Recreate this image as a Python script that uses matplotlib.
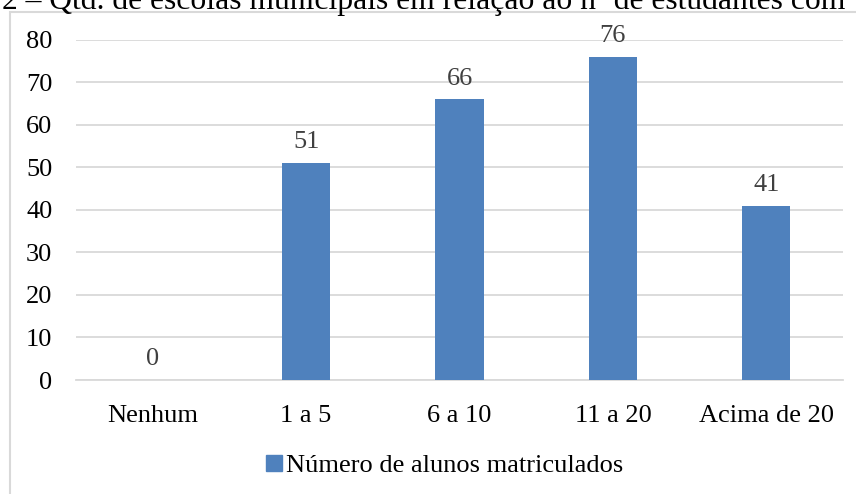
import matplotlib.pyplot as plt
from matplotlib.patches import Rectangle

# faixas de alunos e quantidade de escolas em cada uma
categorias = ['Nenhum', '1 a 5', '6 a 10', '11 a 20', 'Acima de 20']
escolas = [0, 51, 66, 76, 41]
yticks = [0, 10, 20, 30, 40, 50, 60, 70, 80]

titulo = '2 \u2013 Qtd. de escolas municipais em relação ao nº de estudantes com'
serie = 'Número de alunos matriculados'

plt.rcParams['font.family'] = ['Liberation Serif', 'DejaVu Serif']

fig = plt.figure(figsize=(8.56, 4.94), dpi=100)
ax = fig.add_axes([76 / 856, 1 - 380 / 494, (843 - 76) / 856, (380 - 39.7) / 494])

bars = ax.bar(range(len(categorias)), escolas, width=0.315, color='#4f81bd', label=serie, zorder=3)
ax.bar_label(bars, labels=[str(v) for v in escolas], padding=7, fontsize=19, color='#404040')

ax.set_xlim(-0.5, len(categorias) - 0.5)
ax.set_ylim(0, 80)
ax.set_yticks(yticks)
ax.set_xticks(range(len(categorias)))
ax.set_xticklabels(categorias)
ax.tick_params(axis='y', length=0, pad=17, labelsize=19, labelcolor='#000000')
ax.tick_params(axis='x', length=0, pad=18, labelsize=19, labelcolor='#000000')
ax.grid(axis='y', color='#d9d9d9', linewidth=1.3, zorder=0)
for s in ['top', 'right', 'left']:
    ax.spines[s].set_visible(False)
ax.spines['bottom'].set_color('#d9d9d9')
ax.spines['bottom'].set_linewidth(1.3)

# moldura da área do gráfico
fig.patches.append(Rectangle((10 / 856, -0.1), 1.2, 1.1 - 12 / 494, transform=fig.transFigure,
                             fill=False, edgecolor='#d9d9d9', linewidth=1.5, clip_on=False))

# título, cortado na borda superior
fig.text(845 / 856, 1 - 9 / 494, titulo, ha='right', va='baseline', fontsize=22.8, color='#000000')

ax.legend(handles=[Rectangle((0, 0), 1, 1, color='#4f81bd')], labels=[serie],
          loc='center', bbox_to_anchor=(445 / 856, 1 - 466 / 494), bbox_transform=fig.transFigure,
          frameon=False, fontsize=19, handlelength=0.6, handleheight=0.6, handletextpad=0.15)

fig.savefig('out.png', dpi=100)
